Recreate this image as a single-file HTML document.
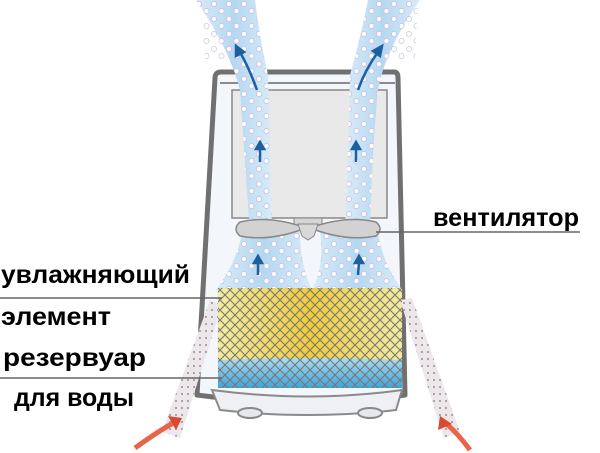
<!DOCTYPE html>
<html><head><meta charset="utf-8"><style>
html,body{margin:0;padding:0;background:#fff;width:600px;height:453px;overflow:hidden}
svg{display:block}
text{font-family:"Liberation Sans","DejaVu Sans",sans-serif;font-weight:bold;font-size:25px;fill:#000}
</style></head><body>
<svg width="600" height="453" viewBox="0 0 600 453" xmlns="http://www.w3.org/2000/svg">
<defs>
<pattern id="mesh" width="10" height="10" patternUnits="userSpaceOnUse">
<path d="M0 0L10 10M10 0L0 10" stroke="#777" stroke-width="1.1"/>
</pattern>
<linearGradient id="yel" x1="0" y1="0" x2="1" y2="0">
<stop offset="0" stop-color="#f3eca0"/><stop offset="0.5" stop-color="#f0cc3a"/><stop offset="1" stop-color="#f3eca0"/>
</linearGradient>
<linearGradient id="blu" x1="0" y1="0" x2="0" y2="1">
<stop offset="0" stop-color="#a8dcef"/><stop offset="1" stop-color="#3fa3dc"/>
</linearGradient>
<linearGradient id="str" x1="0" y1="0" x2="1" y2="0">
<stop offset="0" stop-color="#d8ebf8"/><stop offset="0.5" stop-color="#b4d8f2"/><stop offset="1" stop-color="#d8ebf8"/>
</linearGradient>
<pattern id="dots" width="15" height="15" patternUnits="userSpaceOnUse">
<circle cx="4" cy="4" r="2.6" fill="#fff" stroke="#c9c3e4" stroke-width="0.9"/>
<circle cx="11.5" cy="11" r="2.6" fill="#fff" stroke="#c9c3e4" stroke-width="0.9"/>
</pattern>
<pattern id="pdots" width="6" height="7" patternUnits="userSpaceOnUse">
<circle cx="2" cy="2" r="0.9" fill="#8a6d6d"/>
</pattern>
</defs>
<!-- body -->
<path d="M221 72 L394 72 Q398 72 398 78 L405 395 Q310 410 197 395 L215 78 Q215 72 221 72 Z" fill="#f3f6fa" stroke="#707070" stroke-width="5" stroke-linejoin="round"/>
<line x1="220" y1="83" x2="395" y2="83" stroke="#8a8a8a" stroke-width="2"/>
<rect x="232" y="90" width="155" height="128" fill="#e9e9e9" stroke="#888" stroke-width="1.5"/>
<!-- base -->
<path d="M212 390 Q310 403 402 390 L396 410 Q310 420 220 410 Z" fill="#eef0f4" stroke="#8a8a8a" stroke-width="2"/>
<ellipse cx="250" cy="413" rx="12" ry="5" fill="#e6e8ec" stroke="#888" stroke-width="2"/>
<ellipse cx="370" cy="413" rx="12" ry="5" fill="#e6e8ec" stroke="#888" stroke-width="2"/>
<!-- intake streams -->
<path d="M210 300 L222 305 L180 438 L162 432 Z" fill="#ece7ea"/>
<path d="M210 300 L222 305 L180 438 L162 432 Z" fill="url(#pdots)"/>
<path d="M400 300 L412 298 L460 432 L444 438 Z" fill="#ece7ea"/>
<path d="M400 300 L412 298 L460 432 L444 438 Z" fill="url(#pdots)"/>
<path d="M135 448 Q160 430 175 422" stroke="#e8654a" stroke-width="5" fill="none"/>
<path d="M168 416 L182 418 L176 430 Z" fill="#d94a30"/>
<path d="M470 450 Q455 430 445 423" stroke="#e8654a" stroke-width="5" fill="none"/>
<path d="M438 430 L440 416 L452 424 Z" fill="#d94a30"/>
<!-- lower V streams -->
<path d="M216 290 Q238 260 242 232 L300 232 Q300 265 312 290 Z" fill="url(#str)"/>
<path d="M312 290 Q325 265 320 232 L378 232 Q382 262 402 290 Z" fill="url(#str)"/>
<path d="M216 290 Q238 260 242 232 L300 232 Q300 265 312 290 Z" fill="url(#dots)"/>
<path d="M312 290 Q325 265 320 232 L378 232 Q382 262 402 290 Z" fill="url(#dots)"/>
<!-- upper streams -->
<path d="M250 232 Q244 150 240 90 Q230 50 196 0 L255 0 Q260 40 268 75 Q270 150 272 232 Z" fill="url(#str)"/>
<path d="M345 232 Q348 150 350 75 Q360 40 368 0 L420 0 Q385 50 378 90 Q372 150 370 232 Z" fill="url(#str)"/>
<path d="M250 232 Q244 150 240 90 Q230 50 196 0 L255 0 Q260 40 268 75 Q270 150 272 232 Z" fill="url(#dots)"/>
<path d="M345 232 Q348 150 350 75 Q360 40 368 0 L420 0 Q385 50 378 90 Q372 150 370 232 Z" fill="url(#dots)"/>
<path d="M200 0 L255 0 L248 60 L205 60 Z" fill="url(#dots)" opacity="0.8"/>
<path d="M368 0 L418 0 L415 60 L365 60 Z" fill="url(#dots)" opacity="0.8"/>
<!-- arrows -->
<g stroke="#1e5f9e" stroke-width="2.5" fill="#1e5f9e">
<path d="M257 90 Q250 70 240 52" fill="none"/><path d="M236 46 L244 52 L236 56 Z"/>
<path d="M358 90 Q365 70 378 52" fill="none"/><path d="M382 46 L380 56 L373 51 Z"/>
<line x1="260" y1="162" x2="260" y2="148"/><path d="M256 149 L264 149 L260 142 Z"/>
<line x1="356" y1="162" x2="356" y2="148"/><path d="M352 149 L360 149 L356 142 Z"/>
<line x1="258" y1="275" x2="258" y2="262"/><path d="M254 263 L262 263 L258 256 Z"/>
<line x1="358" y1="275" x2="359" y2="262"/><path d="M355 263 L363 263 L359 256 Z"/>
</g>
<!-- fan -->
<rect x="294" y="218" width="28" height="8" fill="#d5d5d5" stroke="#888"/>
<path d="M240 222 Q270 215 306 228 Q270 242 240 236 Q232 229 240 222 Z" fill="#d2d2d2" stroke="#888" stroke-width="1.5"/>
<path d="M376 222 Q346 215 310 228 Q346 242 376 236 Q384 229 376 222 Z" fill="#d2d2d2" stroke="#888" stroke-width="1.5"/>
<path d="M298 224 L318 224 L314 236 L308 240 L302 236 Z" fill="#d8d8d8" stroke="#888"/>
<!-- filter -->
<path d="M218 288 L402 288 L402 362 Q310 358 218 362 Z" fill="url(#yel)"/>
<path d="M218 360 Q310 356 402 360 L402 388 L218 388 Z" fill="url(#blu)"/>
<rect x="218" y="288" width="184" height="100" fill="url(#mesh)"/>
<!-- leader lines -->
<g stroke="#666" stroke-width="1.5">
<line x1="376" y1="232" x2="580" y2="232"/>
<line x1="0" y1="298" x2="222" y2="298"/>
<line x1="0" y1="378" x2="222" y2="378"/>
</g>
<text x="433" y="226" textLength="146" lengthAdjust="spacingAndGlyphs">вентилятор</text>
<text x="1" y="283" textLength="189" lengthAdjust="spacingAndGlyphs">увлажняющий</text>
<text x="1" y="325" textLength="110" lengthAdjust="spacingAndGlyphs">элемент</text>
<text x="3" y="366" textLength="143" lengthAdjust="spacingAndGlyphs">резервуар</text>
<text x="14" y="406" textLength="120" lengthAdjust="spacingAndGlyphs">для воды</text>
</svg>
</body></html>
